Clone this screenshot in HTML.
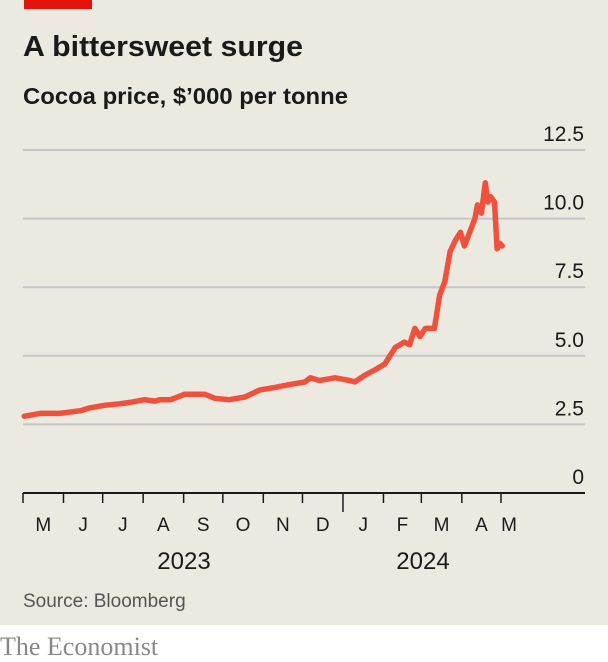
<!DOCTYPE html>
<html><head><meta charset="utf-8"><style>
body{margin:0;width:608px;height:662px;background:#fff;overflow:hidden}
svg{display:block}
</style></head><body>
<svg width="608" height="662" font-family="'Liberation Sans', sans-serif">
<rect x="0" y="0" width="608" height="625" fill="#ebe9e0"/>
<rect x="24" y="0" width="68" height="9" fill="#e3120b"/>
<text x="23" y="56" font-size="29" font-weight="bold" fill="#1a1a1a" textLength="280" lengthAdjust="spacingAndGlyphs">A bittersweet surge</text>
<text x="23" y="104" font-size="23" font-weight="bold" fill="#1a1a1a" textLength="325" lengthAdjust="spacingAndGlyphs">Cocoa price, $’000 per tonne</text>
<g id="grid"></g>
<g id="xaxis"></g>
<path id="line" fill="none" stroke="#f0513c" stroke-width="5.5" stroke-linejoin="round" stroke-linecap="round"/>
<text x="184" y="569" font-size="24" fill="#1a1a1a" text-anchor="middle">2023</text>
<text x="423" y="569" font-size="24" fill="#1a1a1a" text-anchor="middle">2024</text>
<text x="23" y="607" font-size="19" fill="#555">Source: Bloomberg</text>
<text x="0" y="655" font-size="26" fill="#888" font-family="'Liberation Serif', serif">The Economist</text>
</svg>
<script>
const yTicks=[0,2.5,5,7.5,10,12.5];
const yTickLabels=["0","2.5","5.0","7.5","10.0","12.5"];
const monthLabels=["M","J","J","A","S","O","N","D","J","F","M","A","M"];
const monthDays=[0,31,61,92,123,153,184,214,245,276,305,336,366];
const days=[1,13,28,44,51,63,74,82,93,101,105,113,124,139,147,158,170,181,193,204,216,220,227,239,250,254,262,270,277,285,292,296,300,304,308,315,319,323,327,331,335,338,342,346,348,351,354,356,358,361,363,365,367];
const prices=[2.8,2.9,2.9,3.0,3.1,3.2,3.25,3.3,3.4,3.35,3.4,3.4,3.6,3.6,3.45,3.4,3.5,3.75,3.85,3.95,4.05,4.2,4.1,4.2,4.1,4.05,4.3,4.5,4.7,5.3,5.5,5.4,6.0,5.7,6.0,6.0,7.2,7.7,8.8,9.2,9.5,9.0,9.5,10.0,10.5,10.2,11.3,10.6,10.8,10.6,8.9,9.1,9.0];
const ns="http://www.w3.org/2000/svg";
function xs(d){return 23+d*(478/366);}
function ys(v){return 493-v*27.44;}
const grid=document.getElementById('grid');
yTicks.forEach((t,i)=>{
  if(t>0){const l=document.createElementNS(ns,'line');
  l.setAttribute('x1',23);l.setAttribute('x2',585);l.setAttribute('y1',ys(t));l.setAttribute('y2',ys(t));
  l.setAttribute('stroke','#c6c6c8');l.setAttribute('stroke-width','2');
  
  
  grid.appendChild(l);}
  const tx=document.createElementNS(ns,'text');
  tx.setAttribute('x',584);tx.setAttribute('y',ys(t)-9);tx.setAttribute('text-anchor','end');
  tx.setAttribute('font-size','21');tx.setAttribute('fill','#1a1a1a');tx.textContent=yTickLabels[i];
  
  
  grid.appendChild(tx);
});
const xa=document.getElementById('xaxis');
const ax=document.createElementNS(ns,'line');
ax.setAttribute('x1',23);ax.setAttribute('x2',585);ax.setAttribute('y1',493);ax.setAttribute('y2',493);
ax.setAttribute('stroke','#1a1a1a');ax.setAttribute('stroke-width','2');


xa.appendChild(ax);
monthDays.forEach((d,i)=>{
  const t=document.createElementNS(ns,'line');
  const x=xs(d);
  t.setAttribute('x1',x);t.setAttribute('x2',x);t.setAttribute('y1',493);t.setAttribute('y2',i==8?512:503);
  t.setAttribute('stroke','#1a1a1a');t.setAttribute('stroke-width','1.5');
  
  
  xa.appendChild(t);
  const tx=document.createElementNS(ns,'text');
  const nx=i<12?(x+xs(monthDays[i+1]))/2:x+8;
  tx.setAttribute('x',nx);tx.setAttribute('y',531);tx.setAttribute('text-anchor','middle');
  tx.setAttribute('font-size','19');tx.setAttribute('fill','#1a1a1a');tx.textContent=monthLabels[i];
  
  
  xa.appendChild(tx);
});
document.getElementById('line').setAttribute('d',days.map((d,i)=>(i?'L':'M')+xs(d).toFixed(1)+','+ys(prices[i]).toFixed(1)).join(''));
</script>
</body></html>
